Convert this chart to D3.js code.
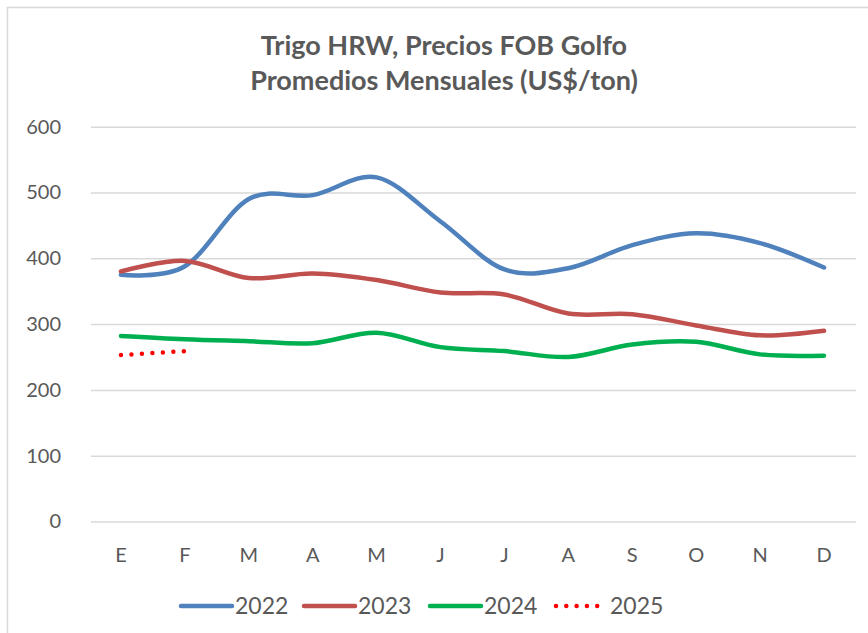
<!DOCTYPE html>
<html><head><meta charset="utf-8">
<script src="https://cdn.jsdelivr.net/npm/d3@7"></script>
<style>body{margin:0;background:#fff;}svg{display:block;}</style>
</head><body>
<script>
const months = ["E","F","M","A","M","J","J","A","S","O","N","D"];
const s2022 = [375,388,490,496,523,456,383,385,420,438,423,386];
const s2023 = [380,396,370,377,367,348,345,316,315,298,283,290];
const s2024 = [282,277,274,271,287,265,259,250,269,273,254,252];
const s2025 = [253,259];
const yTicks = [0,100,200,300,400,500,600];
const seriesNames = ["2022","2023","2024","2025"];
const colors = ["#4f81bd","#c0504d","#00b050","#ff0000"];
const seriesData = [s2022,s2023,s2024,s2025];

const W=868,H=633;
const svg=d3.select("body").append("svg").attr("width",W).attr("height",H);
svg.append("rect").attr("x",7.5).attr("y",7.5).attr("width",W).attr("height",H).attr("fill","#fff").attr("stroke","#d9d9d9").attr("stroke-width",1.5);

const font="Lato, 'Open Sans', sans-serif";
const x=d3.scaleBand().domain(d3.range(12)).range([89,856]);
const y=d3.scaleLinear().domain([0,600]).range([521.5,126.7]);

svg.append("text").attr("x",444).attr("y",55).attr("text-anchor","middle").attr("font-family",font).attr("font-weight","bold").attr("font-size",27).attr("fill","#595959").text("Trigo HRW, Precios FOB Golfo");
svg.append("text").attr("x",444).attr("y",90).attr("text-anchor","middle").attr("font-family",font).attr("font-weight","bold").attr("font-size",27).attr("fill","#595959").text("Promedios Mensuales (US$/ton)");

const yAxis=svg.append("g").attr("transform","translate(91,0)")
  .call(d3.axisLeft(y).tickValues(yTicks).tickSize(-765).tickPadding(30));
yAxis.select(".domain").remove();
yAxis.selectAll("line").attr("stroke","#d9d9d9").attr("stroke-width",1.5);
yAxis.selectAll("text").attr("font-family",font).attr("font-size",20).attr("fill","#595959");

const xAxis=svg.append("g").attr("transform","translate(0,521.5)")
  .call(d3.axisBottom(x).tickFormat(i=>months[i]).tickSize(0).tickPadding(26));
xAxis.select(".domain").remove();
xAxis.selectAll("text").attr("font-family",font).attr("font-size",20).attr("fill","#595959");

const line=d3.line().x((d,i)=>x(i)+x.bandwidth()/2).y(d=>y(d)).curve(d3.curveCatmullRom.alpha(0));
seriesData.forEach((s,k)=>{
  const p=svg.append("path").datum(s).attr("d",line).attr("fill","none").attr("stroke",colors[k]).attr("stroke-width",4.5).attr("stroke-linecap","round");
  if(k===3) p.attr("stroke-dasharray","0 10.5").attr("stroke-width",4.5);
});

const legX=[181,304,430,556];
const lg=svg.append("g");
seriesNames.forEach((n,k)=>{
  const l=lg.append("line").attr("x1",legX[k]).attr("x2",legX[k]+51).attr("y1",606).attr("y2",606).attr("stroke",colors[k]).attr("stroke-width",4.5).attr("stroke-linecap","round");
  if(k===3) l.attr("stroke-dasharray","0 10.3");
  lg.append("text").attr("x",legX[k]+54).attr("y",614).attr("font-family",font).attr("font-size",23).attr("fill","#595959").text(n);
});
</script>
</body></html>
